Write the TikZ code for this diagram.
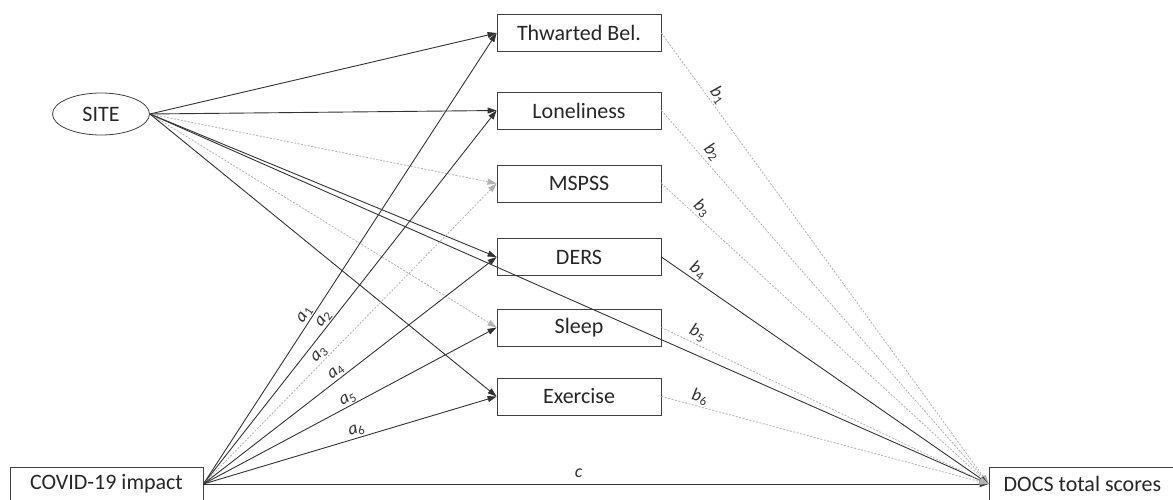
\documentclass[tikz,border=0pt]{standalone}
\usepackage{fontspec}
\setmainfont{Carlito}
\usetikzlibrary{shapes.geometric,arrows.meta}
\newcommand\coef[2]{\textit{#1}\textsubscript{#2}}
\begin{document}
\begin{tikzpicture}[x=1pt,y=-1pt,
 box/.style={draw=black!75, line width=0.8pt, minimum width=164pt, minimum height=37pt, inner sep=0pt, text=black!85, font=\fontsize{22}{26}\selectfont},
 solidarr/.style={draw=black!80, line width=0.9pt, -{Triangle[length=9pt,width=6pt]}},
 dasharr/.style={draw=black!30, line width=0.8pt, dash pattern=on 2pt off 1.5pt, -{Triangle[length=9pt,width=6pt]}},
 lab/.style={sloped, above, inner sep=1pt, text=black!80, font=\fontsize{18}{18}\selectfont}
]
\useasboundingbox (0,0) rectangle (1173,500);
\clip (0,0) rectangle (1173,500);

\node[draw=black!75, line width=0.8pt, ellipse, minimum width=97pt, minimum height=42pt, inner sep=0pt, text=black!85, font=\fontsize{22}{26}\selectfont] (site) at (101,114) {SITE};
\node[box, minimum width=193pt, minimum height=34pt] (covid) at (106.5,484) {COVID-19 impact};
\node[box, minimum width=187pt, minimum height=34pt] (docs) at (1082.5,484) {DOCS total scores};

\node[box] (thw) at (579,33) {Thwarted Bel.};
\node[box] (lon) at (579,110.5) {Loneliness};
\node[box] (msp) at (579,183.5) {MSPSS};
\node[box] (ders) at (579,257) {DERS};
\node[box] (slp) at (579,327.5) {Sleep};
\node[box] (exe) at (579,396.5) {Exercise};

% SITE paths
\draw[solidarr] (site.east) -- (thw.west);
\draw[solidarr] (site.east) -- (lon.west);
\draw[dasharr] (site.east) -- (msp.west);
\draw[solidarr] (site.east) -- (ders.west);
\draw[dasharr] (site.east) -- (slp.west);
\draw[solidarr] (site.east) -- (exe.west);
\draw[solidarr] (site.east) -- (docs.west);

% COVID a paths
\draw[solidarr] (covid.east) -- node[lab, pos=0.367] {\coef{a}{1}} (thw.west);
\draw[solidarr] (covid.east) -- node[lab, pos=0.43] {\coef{a}{2}} (lon.west);
\draw[dasharr] (covid.east) -- node[lab, pos=0.414] {\coef{a}{3}} (msp.west);
\draw[solidarr] (covid.east) -- node[lab, pos=0.468] {\coef{a}{4}} (ders.west);
\draw[solidarr] (covid.east) -- node[lab, pos=0.505] {\coef{a}{5}} (slp.west);
\draw[solidarr] (covid.east) -- node[lab, pos=0.53] {\coef{a}{6}} (exe.west);
\draw[solidarr] (covid.east) -- node[above=3pt, pos=0.478, text=black!80, font=\fontsize{18}{18}\selectfont\itshape] {c} (docs.west);

% b paths
\draw[dasharr] (thw.east) -- node[lab, pos=0.15, inner sep=1.5pt] {\coef{b}{1}} (docs.west);
\draw[dasharr] (lon.east) -- node[lab, pos=0.13, inner sep=3pt] {\coef{b}{2}} (docs.west);
\draw[dasharr] (msp.east) -- node[lab, pos=0.105] {\coef{b}{3}} (docs.west);
\draw[solidarr] (ders.east) -- node[lab, pos=0.095, inner sep=2pt] {\coef{b}{4}} (docs.west);
\draw[dasharr] (slp.east) -- node[lab, pos=0.097, inner sep=3pt] {\coef{b}{5}} (docs.west);
\draw[dasharr] (exe.east) -- node[lab, pos=0.11, inner sep=2pt] {\coef{b}{6}} (docs.west);
\end{tikzpicture}
\end{document}
